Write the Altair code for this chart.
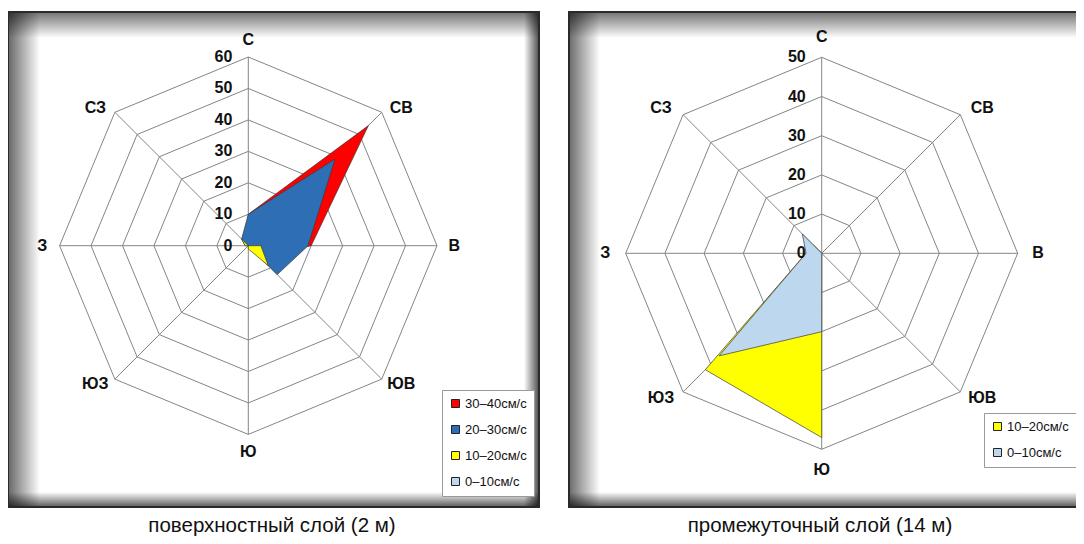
import altair as alt
import pandas as pd

directions = ["С", "СВ", "В", "ЮВ", "Ю", "ЮЗ", "З", "СЗ"]

left_labels = ["30–40см/с", "20–30см/с", "10–20см/с", "0–10см/с"]
left_colors = ["#FF0000", "#2E6EB5", "#FFFF00", "#BDD7EE"]
left_30_40 = [10, 54, 20, 5, 0, 0, 0, 0]
left_20_30 = [10, 39, 19, 13, 0, 0, 1, 3]
left_10_20 = [0, 0, 4, 9, 1, 0, 1, 3]
left_0_10 = [0, 0, 0, 0, 0, 0, 0, 0]
left_ticks = [0, 10, 20, 30, 40, 50, 60]

right_labels = ["10–20см/с", "0–10см/с"]
right_colors = ["#FFFF00", "#BDD7EE"]
right_10_20 = [0, 0, 0, 0, 47, 42, 4, 3]
right_0_10 = [0, 0, 0, 0, 20, 37, 4, 7]
right_ticks = [0, 10, 20, 30, 40, 50]

captions = ["поверхностный слой (2 м)", "промежуточный слой (14 м)"]

FONT = "Liberation Sans"
ANG = "datum.idx * PI / 4"
ONE = pd.DataFrame({"k": [0]})
W, H = 1068, 528
TOP, BOT = 4, 499


def grad_rect(x1, x2, y1, y2, horizontal, a0, a1):
    g = alt.LinearGradient(
        gradient="linear",
        stops=[alt.GradientStop(offset=0, color=f"rgba(0,0,0,{a0})"),
               alt.GradientStop(offset=1, color=f"rgba(0,0,0,{a1})")],
        x1=0, y1=0, x2=1 if horizontal else 0, y2=0 if horizontal else 1,
    )
    return alt.Chart(ONE).mark_rect(fill=g).encode(
        x=alt.value(x1), x2=alt.value(x2), y=alt.value(y1), y2=alt.value(y2))


def frame(x0, x1, right_border):
    out = [
        alt.Chart(ONE).mark_rect(fill="white").encode(
            x=alt.value(x0), x2=alt.value(x1), y=alt.value(TOP), y2=alt.value(BOT)),
        grad_rect(x0, x0 + 32, TOP, BOT, True, 0.6, 0),
        grad_rect(x0, x1, TOP, TOP + 26, False, 0.55, 0),
        grad_rect(x0, x1, BOT - 15, BOT, False, 0, 0.65),
    ]
    if right_border:
        out.append(grad_rect(x1 - 15, x1, TOP, BOT, True, 0, 0.7))
    return out


def border(x0, x1, right_border):
    if right_border:
        return [alt.Chart(ONE).mark_rect(fillOpacity=0, stroke="#2a2a2a", strokeWidth=2).encode(
            x=alt.value(x0), x2=alt.value(x1), y=alt.value(TOP), y2=alt.value(BOT))]
    return [
        alt.Chart(ONE).mark_rule(color="#2a2a2a", strokeWidth=2).encode(
            x=alt.value(x0 + 1), x2=alt.value(x0 + 1), y=alt.value(TOP), y2=alt.value(BOT)),
        alt.Chart(ONE).mark_rule(color="#2a2a2a", strokeWidth=2).encode(
            x=alt.value(x0), x2=alt.value(x1 + 10), y=alt.value(TOP), y2=alt.value(TOP)),
        alt.Chart(ONE).mark_rule(color="#2a2a2a", strokeWidth=2).encode(
            x=alt.value(x0), x2=alt.value(x1 + 10), y=alt.value(BOT), y2=alt.value(BOT)),
    ]


def radar(series, labels, colors, ticks, cx, cy, k, rlab, lx, ly, cap, capx):
    xs = alt.Scale(domain=[-cx / k, (W - cx) / k], zero=False, nice=False)
    ys = alt.Scale(domain=[(cy - H) / k, cy / k], zero=False, nice=False)

    def X(f):
        return alt.X(f, type="quantitative", scale=xs, axis=None)

    def Y(f):
        return alt.Y(f, type="quantitative", scale=ys, axis=None)

    layers = []
    rings = pd.DataFrame([{"ring": t, "idx": i} for t in ticks[1:] for i in range(8)])
    layers.append(
        alt.Chart(rings).mark_line(interpolate="linear-closed", color="#858585", strokeWidth=1)
        .transform_calculate(px=f"datum.ring * sin({ANG})", py=f"datum.ring * cos({ANG})")
        .encode(x=X("px"), y=Y("py"), detail="ring:N", order="idx:Q")
    )
    spokes = pd.DataFrame({"idx": list(range(8)), "r": [max(ticks)] * 8})
    layers.append(
        alt.Chart(spokes).mark_rule(color="#858585", strokeWidth=1)
        .transform_calculate(x0="0", y0="0", px=f"datum.r * sin({ANG})", py=f"datum.r * cos({ANG})")
        .encode(x=X("x0"), y=Y("y0"), x2="px:Q", y2="py:Q")
    )
    for lab, col, vals in zip(labels, colors, series):
        df = pd.DataFrame({"idx": list(range(8)), "dir": directions, "v": vals})
        layers.append(
            alt.Chart(df).mark_line(interpolate="linear-closed", fill=col, stroke="#3a3a3a",
                                    strokeWidth=0.7)
            .transform_calculate(px=f"datum.v * sin({ANG})", py=f"datum.v * cos({ANG})")
            .encode(x=X("px"), y=Y("py"), order="idx:Q")
        )
    tdf = pd.DataFrame({"t": ticks})
    layers.append(
        alt.Chart(tdf).mark_text(align="right", baseline="middle", dx=-16, font=FONT,
                                 fontSize=16, fontWeight="bold", color="#111")
        .transform_calculate(px="0")
        .encode(x=X("px"), y=Y("t"), text="t:Q")
    )
    ddf = pd.DataFrame({"idx": list(range(8)), "dir": directions})
    layers.append(
        alt.Chart(ddf).mark_text(align="center", baseline="middle", font=FONT,
                                 fontSize=16, fontWeight="bold", color="#111")
        .transform_calculate(
            fx="datum.idx % 2 == 1 ? 1.05 : 1", fy="datum.idx % 2 == 1 ? 0.947 : 1",
            px=f"{rlab} * datum.fx * sin({ANG})", py=f"{rlab} * datum.fy * cos({ANG})")
        .encode(x=X("px"), y=Y("py"), text="dir:N")
    )
    ldf = pd.DataFrame({"series": labels, "z": [0] * len(labels)})
    layers.append(
        alt.Chart(ldf).mark_square(opacity=0)
        .encode(
            x=X("z"), y=Y("z"),
            color=alt.Color("series:N", scale=alt.Scale(domain=labels, range=colors),
                            legend=alt.Legend(
                                title=None, orient="none", legendX=lx, legendY=ly,
                                symbolType="square", symbolSize=64, symbolOpacity=1,
                                symbolStrokeColor="#222", symbolStrokeWidth=1,
                                labelFont=FONT, labelFontSize=13, labelColor="#111",
                                labelOffset=3, rowPadding=12, padding=7,
                                strokeColor="#9a9a9a", fillColor="white")))
    )
    layers.append(
        alt.Chart(pd.DataFrame({"c": [cap]})).mark_text(
            font=FONT, fontSize=20.5, color="#111", align="center", baseline="middle")
        .encode(x=alt.value(capx), y=alt.value(518), text="c:N")
    )
    return layers


all_layers = []
all_layers += frame(0, 531, True)
all_layers += frame(560, W, False)
all_layers += radar([left_30_40, left_20_30, left_10_20, left_0_10], left_labels, left_colors,
                    left_ticks, 240.3, 237.7, 3.145, 65.5, 434, 382, captions[0], 264)
all_layers += radar([right_10_20, right_0_10], right_labels, right_colors,
                    right_ticks, 813.7, 245.3, 3.92, 55.2, 976, 405, captions[1], 812)
all_layers += border(0, 531, True)
all_layers += border(560, W, False)

chart = (
    alt.layer(*all_layers)
    .resolve_scale(x="independent", y="independent", color="independent")
    .resolve_legend(color="independent")
    .properties(width=W, height=H, padding=0, autosize=alt.AutoSizeParams(type="none"))
    .configure_view(stroke=None)
)

chart.save("out.html", embed_options={"renderer": "svg", "actions": False})
